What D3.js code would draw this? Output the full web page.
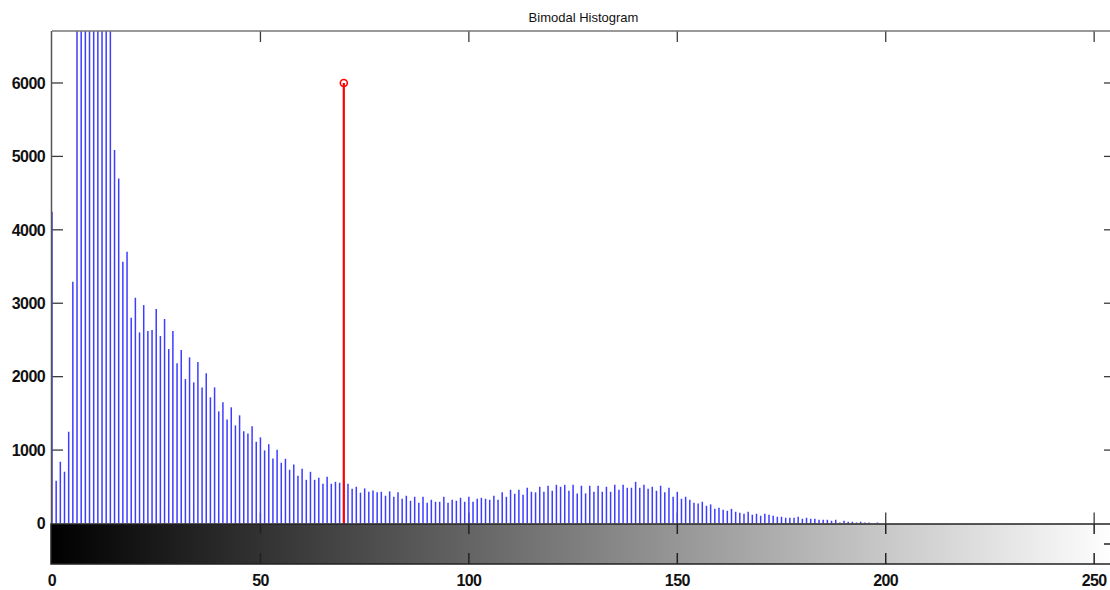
<!DOCTYPE html>
<html>
<head>
<meta charset="utf-8">
<script src="https://cdn.jsdelivr.net/npm/d3@7"></script>
<style>
  body { margin: 0; background: white; }
  text { font-family: "Liberation Sans", Arial, sans-serif; }
</style>
</head>
<body>
<div id="chart"></div>
<script>
const sizing = { width: 1110, height: 590 }
const plot = { left: 52, right: 1115, top: 31, bot: 523.5, barBot: 564 }

// histogram counts for grey level 0,1,2,... (levels after 198 are empty)
const counts = [
  4247, 582, 841, 705, 1250, 3293, 9800, 14500, 17200, 16800,
  15100, 13000, 11200, 9400, 7600, 5087, 4700, 3566, 3702, 2803,
  3075, 2603, 2975, 2621, 2635, 2921, 2553, 2785, 2376, 2621,
  2181, 2362, 1967, 2263, 1922, 2200, 1854, 2045, 1718, 1854,
  1527, 1650, 1418, 1582, 1336, 1473, 1255, 1227, 1323, 1113,
  1173, 996, 1078, 887, 1004, 827, 882, 732, 805, 650,
  745, 595, 704, 595, 623, 541, 636, 541, 568, 555,
  560, 541, 473, 500, 420, 478, 432, 450, 424, 432,
  378, 437, 364, 424, 337, 378, 310, 364, 282, 364,
  282, 323, 296, 296, 364, 282, 323, 310, 350, 296,
  364, 296, 337, 350, 337, 323, 378, 323, 424, 364,
  460, 405, 460, 391, 487, 432, 424, 500, 432, 514,
  446, 527, 500, 527, 446, 527, 410, 514, 410, 514,
  432, 514, 432, 500, 432, 527, 460, 527, 487, 487,
  568, 487, 527, 473, 500, 446, 514, 424, 487, 364,
  432, 337, 364, 323, 282, 274, 296, 241, 260, 200,
  214, 187, 173, 200, 160, 146, 132, 160, 119, 132,
  105, 132, 119, 105, 91, 91, 78, 78, 78, 91,
  64, 78, 64, 64, 50, 50, 50, 37, 50, 15,
  37, 23, 23, 15, 23, 15, 15, 0, 15
]
const levels = counts.map((c, i) => i)

const xTicks = [0, 50, 100, 150, 200, 250]
const yTicks = [0, 1000, 2000, 3000, 4000, 5000, 6000]
const yMax = 6708
const titleText = "Bimodal Histogram"

// threshold marker
const thresholdLevel = 70
const thresholdValue = 6000

const svg = d3.select("#chart").append("svg")
    .attr("width", sizing.width)
    .attr("height", sizing.height)

const x = d3.scaleLinear().domain([0, 255]).range([plot.left, plot.right])
const y = d3.scaleLinear().domain([0, yMax]).range([plot.bot, plot.top])

const axisColor = "#3c3c3c"
const tickLen = 11

svg.append("text")
    .text(titleText)
    .attr("x", (plot.left + plot.right) / 2)
    .attr("y", 22)
    .attr("text-anchor", "middle")
    .attr("font-size", 13)
    .attr("fill", "#111")

// ticks inside the histogram axes (drawn under the stems)
const tickGroup = svg.append("g").attr("stroke", axisColor).attr("stroke-width", 1.3)
tickGroup.selectAll(".ytl").data(yTicks.slice(1)).join("line")
    .attr("x1", plot.left).attr("x2", plot.left + tickLen)
    .attr("y1", d => y(d)).attr("y2", d => y(d))
tickGroup.selectAll(".ytr").data(yTicks.slice(1)).join("line")
    .attr("x1", plot.right).attr("x2", plot.right - tickLen)
    .attr("y1", d => y(d)).attr("y2", d => y(d))
tickGroup.selectAll(".xtb").data(xTicks.slice(1)).join("line")
    .attr("x1", d => x(d)).attr("x2", d => x(d))
    .attr("y1", plot.bot).attr("y2", plot.bot - tickLen)
tickGroup.selectAll(".xtt").data(xTicks.slice(1)).join("line")
    .attr("x1", d => x(d)).attr("x2", d => x(d))
    .attr("y1", plot.top).attr("y2", plot.top + tickLen)

svg.append("clipPath").attr("id", "clip")
  .append("rect")
    .attr("x", plot.left - 2).attr("y", plot.top)
    .attr("width", plot.right - plot.left + 4).attr("height", plot.bot - plot.top)

const stems = svg.append("g").attr("clip-path", "url(#clip)")
stems.selectAll("line")
    .data(levels.filter(i => counts[i] > 0))
    .join("line")
    .attr("x1", d => x(d)).attr("x2", d => x(d))
    .attr("y1", y(0)).attr("y2", d => y(counts[d]))
    .attr("stroke", "#3d3dff")
    .attr("stroke-width", 1.5)

// red threshold stem
svg.append("line")
    .attr("x1", x(thresholdLevel)).attr("x2", x(thresholdLevel))
    .attr("y1", y(0)).attr("y2", y(thresholdValue))
    .attr("stroke", "#ff0000")
    .attr("stroke-width", 2.2)
svg.append("circle")
    .attr("cx", x(thresholdLevel)).attr("cy", y(thresholdValue))
    .attr("r", 3.5)
    .attr("fill", "none")
    .attr("stroke", "#ff0000")
    .attr("stroke-width", 1.6)

// frame of the histogram axes
svg.append("line")
    .attr("x1", plot.left).attr("x2", plot.right)
    .attr("y1", plot.top).attr("y2", plot.top)
    .attr("stroke", "#777").attr("stroke-width", 1.5)
svg.append("line")
    .attr("x1", plot.left - 0.5).attr("x2", plot.left - 0.5)
    .attr("y1", plot.top).attr("y2", plot.bot)
    .attr("stroke", "#555").attr("stroke-width", 1.5)
svg.append("line")
    .attr("x1", plot.right).attr("x2", plot.right)
    .attr("y1", plot.top).attr("y2", plot.bot)
    .attr("stroke", "#555").attr("stroke-width", 1.5)

// y labels
svg.append("g").selectAll("text").data(yTicks).join("text")
    .text(d => d)
    .attr("x", 45)
    .attr("y", d => y(d))
    .attr("dy", "0.36em")
    .attr("text-anchor", "end")
    .attr("font-size", 16)
    .attr("font-weight", "bold")
    .attr("letter-spacing", -0.6)
    .attr("fill", "#111")

// grey level colour bar
const grad = svg.append("defs").append("linearGradient")
    .attr("id", "grey").attr("x1", "0%").attr("x2", "100%")
grad.append("stop").attr("offset", "0%").attr("stop-color", "#000")
grad.append("stop").attr("offset", "100%").attr("stop-color", "#fff")

const barTop = plot.bot + 0.5
svg.append("rect")
    .attr("x", plot.left - 1).attr("y", barTop)
    .attr("width", plot.right - plot.left + 1)
    .attr("height", plot.barBot - barTop)
    .attr("fill", "url(#grey)")
    .attr("stroke", "#222").attr("stroke-width", 1.5)

const barTicks = svg.append("g").attr("stroke", "#222").attr("stroke-width", 1.5)
barTicks.selectAll(".bt").data(xTicks.slice(1)).join("line")
    .attr("x1", d => x(d)).attr("x2", d => x(d))
    .attr("y1", barTop).attr("y2", barTop + 10)
barTicks.selectAll(".bb").data(xTicks.slice(1)).join("line")
    .attr("x1", d => x(d)).attr("x2", d => x(d))
    .attr("y1", plot.barBot).attr("y2", plot.barBot - 11)
barTicks.append("line")
    .attr("x1", plot.right).attr("x2", plot.right - tickLen)
    .attr("y1", (barTop + plot.barBot) / 2).attr("y2", (barTop + plot.barBot) / 2)

// x labels
svg.append("g").selectAll("text").data(xTicks).join("text")
    .text(d => d)
    .attr("x", d => x(d))
    .attr("y", 586)
    .attr("text-anchor", "middle")
    .attr("font-size", 16)
    .attr("font-weight", "bold")
    .attr("letter-spacing", -0.6)
    .attr("fill", "#111")
</script>
</body>
</html>
